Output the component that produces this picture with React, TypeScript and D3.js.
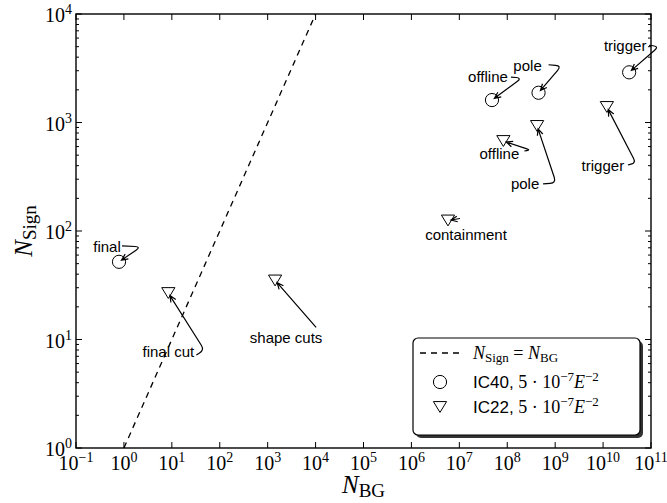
import React from "react";
import * as d3 from "d3";

// IC40 event counts after each cut level
const ic40Labels = ["final", "offline", "pole", "trigger"];
const ic40NBG = [0.79, 4.8e7, 4.5e8, 3.5e10];
const ic40NSign = [52, 1610, 1880, 2900];

// IC22 event counts after each cut level
const ic22Labels = ["final cut", "shape cuts", "containment", "offline", "pole", "trigger"];
const ic22NBG = [8.45, 1430, 5.8e6, 8.3e7, 4.2e8, 1.2e10];
const ic22NSign = [26.8, 35, 125, 675, 929, 1390];

// Reference line N_Sign = N_BG
const equalityLine = [1, 1e4];

// Tick exponents
const xExponents = [-1, 0, 1, 2, 3, 4, 5, 6, 7, 8, 9, 10, 11];
const yExponents = [0, 1, 2, 3, 4];

// Annotation layout (pixel offsets from the annotated marker): text centre, arrow tail, bend
type Offset = [number, number];
const ic40Callouts: { text: Offset; tail: Offset; bend?: Offset }[] = [
  { text: [-12, -15], tail: [3, -16], bend: [22, -15] },
  { text: [-4, -23], tail: [19, -23], bend: [30, -22] },
  { text: [-11, -27], tail: [10, -28], bend: [23, -27] },
  { text: [-4, -27], tail: [20, -27], bend: [30, -26] },
];
const ic22Callouts: { text: Offset; tail: Offset; bend?: Offset }[] = [
  { text: [0, 59], tail: [28, 62], bend: [36, 57] },
  { text: [11, 57], tail: [41, 47] },
  { text: [18, 14], tail: [12, -2] },
  { text: [-4, 13], tail: [21, 10], bend: [27, 9] },
  { text: [-12, 58], tail: [6, 58], bend: [19, 57] },
  { text: [-4, 59], tail: [21, 58], bend: [29, 56] },
];

const W = 667;
const H = 503;
const left = 76;
const right = 651;
const top = 14;
const bottom = 448;

const SERIF = "'Liberation Serif', 'DejaVu Serif', serif";
const SANS = "'Liberation Sans', Arial, sans-serif";

const x = d3.scaleLog().domain([1e-1, 1e11]).range([left, right]);
const y = d3.scaleLog().domain([1, 1e4]).range([bottom, top]);

function supMinus(e: number) {
  return e < 0 ? "\u2212" + Math.abs(e) : String(e);
}

function arrowPath(px: number, py: number, c: { tail: Offset; bend?: Offset }) {
  const tx = px + c.tail[0];
  const ty = py + c.tail[1];
  const pts: [number, number][] = [[tx, ty]];
  if (c.bend) pts.push([px + c.bend[0], py + c.bend[1]]);
  // shrink the end back from the marker centre
  const prev = pts[pts.length - 1];
  const dx = px - prev[0];
  const dy = py - prev[1];
  const len = Math.hypot(dx, dy);
  const shrink = 3;
  const ex = px - (dx / len) * shrink;
  const ey = py - (dy / len) * shrink;
  let d = `M${tx},${ty}`;
  if (c.bend) {
    const [bx, by] = [px + c.bend[0], py + c.bend[1]];
    const inLen = Math.hypot(bx - tx, by - ty);
    const outLen = Math.hypot(ex - bx, ey - by);
    const r = Math.min(6, inLen * 0.6, outLen * 0.4);
    const p1x = bx - ((bx - tx) / inLen) * r;
    const p1y = by - ((by - ty) / inLen) * r;
    const p2x = bx + ((ex - bx) / outLen) * r;
    const p2y = by + ((ey - by) / outLen) * r;
    d += ` L${p1x},${p1y} Q${bx},${by} ${p2x},${p2y}`;
  }
  d += ` L${ex},${ey}`;
  // open arrow head
  const ang = Math.atan2(ey - prev[1], ex - prev[0]);
  const hl = 7;
  const ha = 0.42;
  const h1x = ex - hl * Math.cos(ang - ha);
  const h1y = ey - hl * Math.sin(ang - ha);
  const h2x = ex - hl * Math.cos(ang + ha);
  const h2y = ey - hl * Math.sin(ang + ha);
  d += ` M${h1x},${h1y} L${ex},${ey} L${h2x},${h2y}`;
  return d;
}

function triPath(cx: number, cy: number, s = 6.6) {
  const h = s * 0.82;
  return `M${cx - s},${cy - h} L${cx + s},${cy - h} L${cx},${cy + h} Z`;
}

export default function App() {
  const majorLen = 6;
  const minorLen = 3;
  const yMinor: number[] = [];
  for (let e = 0; e < 4; e++) for (let m = 2; m <= 9; m++) yMinor.push(m * Math.pow(10, e));

  const ic40 = ic40NBG.map((v, i) => ({ px: x(v), py: y(ic40NSign[i]), label: ic40Labels[i], c: ic40Callouts[i] }));
  const ic22 = ic22NBG.map((v, i) => ({ px: x(v), py: y(ic22NSign[i]), label: ic22Labels[i], c: ic22Callouts[i] }));

  const lineGen = d3
    .line<number>()
    .x((d) => x(d))
    .y((d) => y(d));

  return (
    <svg width={W} height={H} style={{ position: "absolute", left: 0, top: 0, background: "#fff" }}>
      <defs>
        <clipPath id="plotArea">
          <rect x={left} y={top} width={right - left} height={bottom - top} />
        </clipPath>
      </defs>
      <rect x={0} y={0} width={W} height={H} fill="#fff" />

      {/* equality line */}
      <path
        d={lineGen(equalityLine) || ""}
        fill="none"
        stroke="#000"
        strokeWidth={1.3}
        strokeDasharray="6,5"
        clipPath="url(#plotArea)"
      />

      {/* markers */}
      {ic40.map((p, i) => (
        <circle key={"c" + i} cx={p.px} cy={p.py} r={6.6} fill="none" stroke="#000" strokeWidth={1} />
      ))}
      {ic22.map((p, i) => (
        <path key={"t" + i} d={triPath(p.px, p.py)} fill="none" stroke="#000" strokeWidth={1} />
      ))}

      {/* callouts */}
      {[...ic40, ...ic22].map((p, i) => (
        <g key={"a" + i}>
          <path d={arrowPath(p.px, p.py, p.c)} fill="none" stroke="#000" strokeWidth={1.2} />
          <text
            x={p.px + p.c.text[0]}
            y={p.py + p.c.text[1]}
            dy="0.35em"
            textAnchor="middle"
            fontFamily={SANS}
            fontSize={15}
            fill="#000"
          >
            {p.label}
          </text>
        </g>
      ))}

      {/* frame */}
      <rect x={left} y={top} width={right - left} height={bottom - top} fill="none" stroke="#000" strokeWidth={1.4} />

      {/* x ticks */}
      {xExponents.map((e) => {
        const xv = x(Math.pow(10, e));
        return (
          <g key={"xt" + e}>
            <line x1={xv} x2={xv} y1={bottom} y2={bottom - majorLen} stroke="#000" strokeWidth={1} />
            <line x1={xv} x2={xv} y1={top} y2={top + majorLen} stroke="#000" strokeWidth={1} />
            <text x={xv} y={470} textAnchor="middle" fontFamily={SERIF} fontSize={20} fill="#000">
              10
              <tspan dy={-8} fontSize={14}>
                {supMinus(e)}
              </tspan>
            </text>
          </g>
        );
      })}

      {/* y ticks */}
      {yExponents.map((e) => {
        const yv = y(Math.pow(10, e));
        return (
          <g key={"yt" + e}>
            <line x1={left} x2={left + majorLen} y1={yv} y2={yv} stroke="#000" strokeWidth={1} />
            <line x1={right} x2={right - majorLen} y1={yv} y2={yv} stroke="#000" strokeWidth={1} />
            <text x={72} y={yv + 8} textAnchor="end" fontFamily={SERIF} fontSize={20} fill="#000">
              10
              <tspan dy={-8} fontSize={14}>
                {supMinus(e)}
              </tspan>
            </text>
          </g>
        );
      })}
      {yMinor.map((v, i) => {
        const yv = y(v);
        return (
          <g key={"ym" + i}>
            <line x1={left} x2={left + minorLen} y1={yv} y2={yv} stroke="#000" strokeWidth={1} />
            <line x1={right} x2={right - minorLen} y1={yv} y2={yv} stroke="#000" strokeWidth={1} />
          </g>
        );
      })}

      {/* axis labels */}
      <text x={(left + right) / 2} y={493} textAnchor="middle" fontFamily={SERIF} fontSize={25} fill="#000">
        <tspan fontStyle="italic">N</tspan>
        <tspan dy={4} fontSize={19}>
          BG
        </tspan>
      </text>
      <text
        transform={`translate(32,${(top + bottom) / 2}) rotate(-90)`}
        textAnchor="middle"
        fontFamily={SERIF}
        fontSize={25}
        fill="#000"
      >
        <tspan fontStyle="italic">N</tspan>
        <tspan dy={4} fontSize={19}>
          Sign
        </tspan>
      </text>

      {/* legend */}
      <g>
        <rect x={416} y={341} width={227} height={97} rx={5} fill="#333" />
        <rect x={413} y={338} width={227} height={97} rx={5} fill="#fff" stroke="#000" strokeWidth={1.2} />
        <line x1={420} x2={460} y1={353} y2={353} stroke="#000" strokeWidth={1.3} strokeDasharray="6,5" />
        <text x={473} y={359} fontFamily={SERIF} fontSize={18} fill="#000">
          <tspan fontStyle="italic">N</tspan>
          <tspan dy={3} fontSize={13}>
            Sign
          </tspan>
          <tspan dy={-3}> = </tspan>
          <tspan fontStyle="italic">N</tspan>
          <tspan dy={3} fontSize={13}>
            BG
          </tspan>
        </text>
        <circle cx={440} cy={382} r={6.6} fill="none" stroke="#000" strokeWidth={1} />
        <text x={473} y={388} fontFamily={SANS} fontSize={17} fill="#000">
          IC40,
          <tspan fontFamily={SERIF} fontSize={18}>
            {" 5 \u00b7 10"}
          </tspan>
          <tspan fontFamily={SERIF} fontSize={13} dy={-7}>
            {"\u22127"}
          </tspan>
          <tspan fontFamily={SERIF} fontSize={18} fontStyle="italic" dy={7}>
            E
          </tspan>
          <tspan fontFamily={SERIF} fontSize={13} dy={-7}>
            {"\u22122"}
          </tspan>
        </text>
        <path d={triPath(440, 407)} fill="none" stroke="#000" strokeWidth={1} />
        <text x={473} y={413} fontFamily={SANS} fontSize={17} fill="#000">
          IC22,
          <tspan fontFamily={SERIF} fontSize={18}>
            {" 5 \u00b7 10"}
          </tspan>
          <tspan fontFamily={SERIF} fontSize={13} dy={-7}>
            {"\u22127"}
          </tspan>
          <tspan fontFamily={SERIF} fontSize={18} fontStyle="italic" dy={7}>
            E
          </tspan>
          <tspan fontFamily={SERIF} fontSize={13} dy={-7}>
            {"\u22122"}
          </tspan>
        </text>
      </g>
    </svg>
  );
}
